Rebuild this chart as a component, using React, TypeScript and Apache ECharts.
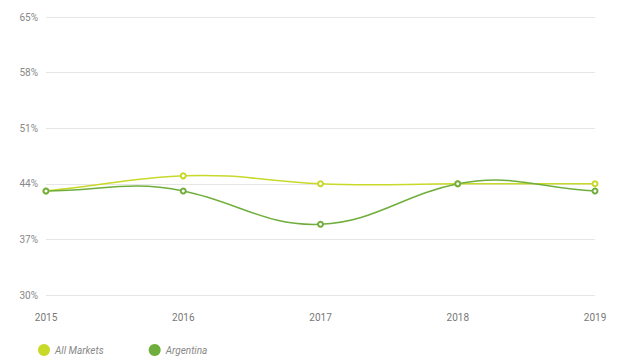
import React, { useEffect, useRef } from "react";
import * as echarts from "echarts";

const years = ["2015", "2016", "2017", "2018", "2019"];
const allMarkets = [43.1, 45.0, 44.0, 44.0, 44.0];
const argentina = [43.1, 43.1, 38.9, 44.0, 43.1];

const COLOR_ALL = "#c8d92a";
const COLOR_ARG = "#6fae3c";

function splineSeries(values: number[], color: string) {
  return {
    type: "custom",
    silent: true,
    z: 1,
    data: values.map((v, i) => [i, v]),
    renderItem: (params: any, api: any) => {
      if (params.dataIndex !== 0) return null;
      const pts = values.map((v, i) => api.coord([i, v]));
      const n = pts.length;
      const a = 0.4;
      const b = 0.33;
      let d = `M${pts[0][0]},${pts[0][1]}`;
      for (let i = 0; i < n - 1; i++) {
        const p0 = pts[Math.max(i - 1, 0)];
        const p1 = pts[i];
        const p2 = pts[i + 1];
        const p3 = pts[Math.min(i + 2, n - 1)];
        const dx = p2[0] - p1[0];
        const c1x = p1[0] + a * dx;
        const c1y = p1[1] + b * (p2[1] - p0[1]);
        const c2x = p2[0] - a * dx;
        const c2y = p2[1] - b * (p3[1] - p1[1]);
        d += ` C${c1x},${c1y} ${c2x},${c2y} ${p2[0]},${p2[1]}`;
      }
      return {
        type: "path",
        shape: { pathData: d },
        style: { fill: "none", stroke: color, lineWidth: 1.5 },
      };
    },
  };
}

export default function App() {
  const ref = useRef<HTMLDivElement>(null);
  useEffect(() => {
    const chart = echarts.init(ref.current!, null, { renderer: "svg" });
    chart.setOption({
      animation: false,
      backgroundColor: "#ffffff",
      grid: { left: 46, right: 47, top: 17, bottom: 66 },
      legend: {
        left: 33,
        bottom: 0,
        icon: "circle",
        itemWidth: 12,
        itemHeight: 12,
        itemGap: 45,
        textStyle: { color: "#888", fontStyle: "italic", fontSize: 10, fontFamily: "Roboto" },
        data: ["All Markets", "Argentina"],
      },
      xAxis: {
        type: "category",
        data: years,
        boundaryGap: false,
        axisLine: { show: false },
        axisTick: { show: false },
        axisLabel: { color: "#777", fontSize: 10, margin: 17, fontFamily: "Roboto" },
      },
      yAxis: {
        type: "value",
        min: 30,
        max: 65,
        interval: 7,
        axisLine: { show: false },
        axisTick: { show: false },
        axisLabel: { color: "#888", fontSize: 10, margin: 8, formatter: "{value}%", fontFamily: "Roboto" },
        splitLine: { lineStyle: { color: "#e6e6e6" } },
      },
      series: [
        splineSeries(allMarkets, COLOR_ALL),
        splineSeries(argentina, COLOR_ARG),
        {
          name: "All Markets",
          type: "line",
          data: allMarkets,
          z: 3,
          symbol: "emptyCircle",
          symbolSize: 5,
          color: COLOR_ALL,
          lineStyle: { width: 1.5, color: COLOR_ALL, opacity: 0 },
          itemStyle: { color: COLOR_ALL, borderWidth: 1.5 },
        },
        {
          name: "Argentina",
          type: "line",
          data: argentina,
          z: 3,
          symbol: "emptyCircle",
          symbolSize: 5,
          color: COLOR_ARG,
          lineStyle: { width: 1.5, color: COLOR_ARG, opacity: 0 },
          itemStyle: { color: COLOR_ARG, borderWidth: 1.5 },
        },
      ],
    });
    return () => chart.dispose();
  }, []);
  return <div ref={ref} style={{ width: 642, height: 361, position: "absolute", left: 0, top: 0 }} />;
}
